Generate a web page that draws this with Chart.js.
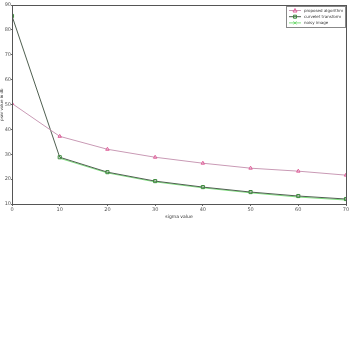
<!DOCTYPE html>
<html>
<head>
<meta charset="utf-8">
<script src="https://cdn.jsdelivr.net/npm/chart.js@4.4.0/dist/chart.umd.min.js"></script>
<style>
  html, body { margin: 0; padding: 0; background: #fff; }
  #wrap { width: 355px; height: 343px; }
</style>
</head>
<body>
<div id="wrap"><canvas id="psnr-chart" width="355" height="343"></canvas></div>
<script>
// sigma values on the x axis
const sigmas = [0, 10, 20, 30, 40, 50, 60, 70];

// psnr values
const proposed = [50.4, 37.2, 32.0, 28.8, 26.4, 24.4, 23.2, 21.6];
const curvelet = [85.6, 28.8, 22.8, 19.2, 16.8, 14.8, 13.2, 12.0];
const noisy = [null, 28.4, 22.5, 18.9, 16.5, 14.5, 12.8, 11.6];

const seriesLabels = ['proposed algorithm', 'curvelet transform', 'noisy image'];
const xTicks = [0, 10, 20, 30, 40, 50, 60, 70];
const yTicks = [10, 20, 30, 40, 50, 60, 70, 80, 90];

const tickFont = { family: 'DejaVu Sans', size: 5 };

function toPoints(ys) {
  return sigmas.map((x, i) => ({ x, y: ys[i] }));
}

// box round the plot plus a matlab style legend in the top right corner
const framePlugin = {
  id: 'frame',
  afterDatasetsDraw(chart) {
    const { ctx, chartArea: a } = chart;
    ctx.save();
    ctx.strokeStyle = '#555';
    ctx.lineWidth = 1;
    ctx.strokeRect(a.left + 0.5, a.top + 0.5, a.right - a.left, a.bottom - a.top);

    // legend
    const w = 59, h = 21;
    const lx = a.right - w - 1, ly = a.top + 1;
    ctx.fillStyle = '#fff';
    ctx.fillRect(lx, ly, w, h);
    ctx.strokeStyle = '#888';
    ctx.strokeRect(lx + 0.5, ly + 0.5, w, h);
    ctx.font = '4px "DejaVu Sans"';
    ctx.textBaseline = 'middle';
    chart.data.datasets.forEach((ds, i) => {
      const yy = ly + 4.5 + i * 6.2;
      ctx.strokeStyle = ds.borderColor;
      ctx.beginPath();
      ctx.moveTo(lx + 3, yy);
      ctx.lineTo(lx + 15, yy);
      ctx.stroke();
      ctx.strokeStyle = ds.pointBorderColor;
      ctx.beginPath();
      if (i === 0) {
        ctx.moveTo(lx + 9, yy - 2); ctx.lineTo(lx + 11, yy + 1.5); ctx.lineTo(lx + 7, yy + 1.5); ctx.closePath();
      } else if (i === 1) {
        ctx.rect(lx + 7.5, yy - 1.5, 3, 3);
      } else {
        ctx.moveTo(lx + 7.5, yy - 1.5); ctx.lineTo(lx + 10.5, yy + 1.5);
        ctx.moveTo(lx + 10.5, yy - 1.5); ctx.lineTo(lx + 7.5, yy + 1.5);
      }
      ctx.stroke();
      ctx.fillStyle = '#333';
      ctx.fillText(ds.label, lx + 18, yy);
    });
    ctx.restore();
  }
};

new Chart(document.getElementById('psnr-chart'), {
  type: 'line',
  data: {
    datasets: [
      {
        label: seriesLabels[0],
        data: toPoints(proposed),
        borderColor: '#c99ab5',
        pointBorderColor: '#e0609a',
        pointBackgroundColor: 'rgba(0,0,0,0)',
        pointStyle: 'triangle',
        pointRadius: 2,
        borderWidth: 1,
        tension: 0
      },
      {
        label: seriesLabels[1],
        data: toPoints(curvelet),
        borderColor: '#4f5f50',
        pointBorderColor: '#3c8a3c',
        pointBackgroundColor: 'rgba(0,0,0,0)',
        pointStyle: 'rect',
        pointRadius: 2.2,
        borderWidth: 1,
        tension: 0
      },
      {
        label: seriesLabels[2],
        data: toPoints(noisy),
        borderColor: '#7fe07f',
        pointBorderColor: '#6fd86f',
        pointBackgroundColor: 'rgba(0,0,0,0)',
        pointStyle: 'crossRot',
        pointRadius: 0,
        borderWidth: 1,
        tension: 0
      }
    ]
  },
  plugins: [framePlugin],
  options: {
    responsive: false,
    animation: false,
    layout: { padding: { top: 4, right: 9, bottom: 123, left: 0 } },
    plugins: {
      legend: { display: false },
      tooltip: { enabled: false }
    },
    scales: {
      x: {
        type: 'linear',
        min: 0,
        max: 70,
        afterFit: s => { s.height = 16; },
        afterBuildTicks: s => { s.ticks = xTicks.map(v => ({ value: v })); },
        grid: { display: true, drawOnChartArea: false, tickLength: 2, color: '#666' },
        border: { color: '#555' },
        ticks: { font: tickFont, color: '#555', padding: 1, maxRotation: 0 },
        title: { display: true, text: 'sigma value', font: { family: 'DejaVu Sans', size: 4.5 }, color: '#333', padding: 0 }
      },
      y: {
        min: 10,
        max: 90,
        afterFit: s => { s.width = 12; },
        afterBuildTicks: s => { s.ticks = yTicks.map(v => ({ value: v })); },
        grid: { display: true, drawOnChartArea: false, tickLength: 1, color: '#666' },
        border: { color: '#555' },
        ticks: { font: tickFont, color: '#555', padding: 0 },
        title: { display: true, text: 'psnr value in db', font: { family: 'DejaVu Sans', size: 4 }, color: '#333', padding: 0 }
      }
    }
  }
});
</script>
</body>
</html>
